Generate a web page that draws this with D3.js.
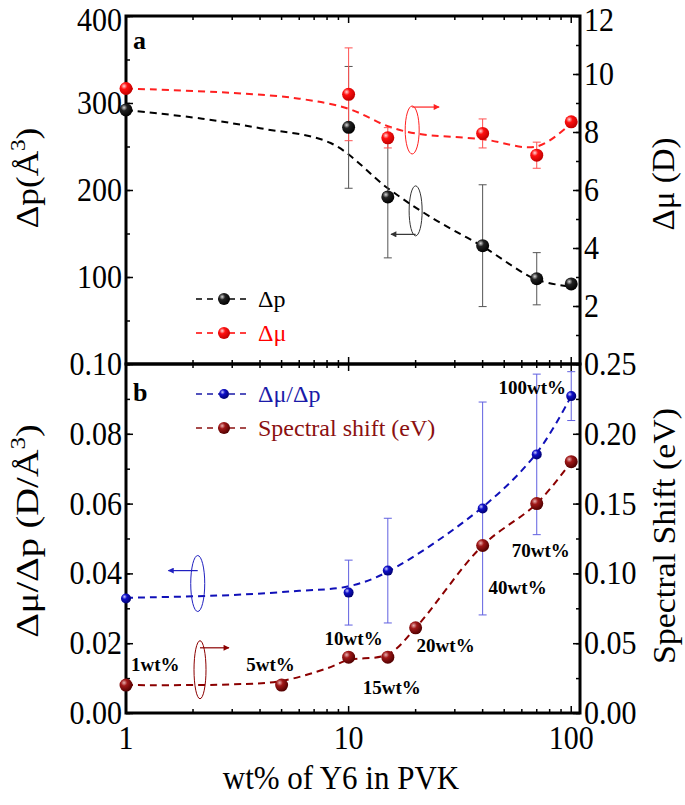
<!DOCTYPE html>
<html>
<head>
<meta charset="utf-8">
<script src="https://cdn.jsdelivr.net/npm/d3@7"></script>
<style>
body { margin: 0; background: #fff; }
text { font-family: "Liberation Serif", "Times New Roman", serif; }
</style>
</head>
<body>
<svg id="chart" width="685" height="805"></svg>
<script>
// wt% of Y6 in PVK
const wtPct = [1, 10, 15, 40, 70, 100];

// panel a
const dp = [292, 272, 192, 136, 98, 92];
const dpErr = [0, 70, 70, 70, 30, 0];
const dmu = [9.5, 9.3, 7.8, 7.95, 7.2, 8.35];
const dmuErr = [0, 1.6, 0.35, 0.5, 0.45, 0];

// panel b
const ratio = [0.0328, 0.0345, 0.0408, 0.0586, 0.0741, 0.0908];
const ratioErr = [0, 0.0093, 0.015, 0.0305, 0.023, 0.007];
const shiftX = [1, 5, 10, 15, 20, 40, 70, 100];
const shift = [0.02, 0.02, 0.04, 0.04, 0.061, 0.12, 0.15, 0.18];
const shiftLabels = ['1wt%', '5wt%', '10wt%', '15wt%', '20wt%', '40wt%', '70wt%', '100wt%'];

// dashed guide curves
const dpFitX = [1, 2.2, 4, 8.3, 15, 23, 40, 70, 100];
const dpFit = [292, 282, 271, 254, 202, 170, 135, 97, 89];
const dmuFitX = [1, 3, 6, 10, 15, 20, 40, 70, 100];
const dmuFit = [9.5, 9.35, 9.15, 8.8, 8.2, 7.95, 7.75, 7.5, 8.3];
const ratioFitX = [1, 3, 6, 10, 15, 40, 70, 100];
const ratioFit = [0.033, 0.0338, 0.035, 0.0363, 0.0405, 0.059, 0.0745, 0.0908];
const shiftFitX = [1, 3, 5, 8, 10, 15, 20, 40, 70, 100];
const shiftFit = [0.02, 0.0205, 0.023, 0.032, 0.038, 0.042, 0.061, 0.12, 0.15, 0.18];

// ticks
const xMajor = [1, 10, 100];
const xMinor = [2, 3, 4, 5, 6, 7, 8, 9, 20, 30, 40, 50, 60, 70, 80, 90];
const dpTicks = [100, 200, 300, 400];
const dmuTicks = [2, 4, 6, 8, 10, 12];
const ratioTicks = [0, 0.02, 0.04, 0.06, 0.08, 0.10];
const shiftTicks = [0, 0.05, 0.10, 0.15, 0.20, 0.25];

const svg = d3.select('#chart');
const left = 126, right = 580;
const topA = 16, midY = 364, botB = 713;

const x = d3.scaleLog().domain([1, 109.5]).range([left, right]);
const yDp = d3.scaleLinear().domain([0, 400]).range([midY, topA]);
const yMu = d3.scaleLinear().domain([0, 12]).range([midY, topA]);
const yRatio = d3.scaleLinear().domain([0, 0.10]).range([botB, midY]);
const yShift = d3.scaleLinear().domain([0, 0.25]).range([botB, midY]);

// sphere gradients
const defs = svg.append('defs');
function sphere(id, hi, base, edge) {
    let g = defs.append('radialGradient').attr('id', id)
        .attr('cx', '35%').attr('cy', '32%').attr('r', '70%');
    g.append('stop').attr('offset', '0%').attr('stop-color', hi);
    g.append('stop').attr('offset', '35%').attr('stop-color', base);
    g.append('stop').attr('offset', '100%').attr('stop-color', edge);
}
sphere('gBlack', '#d8d8d8', '#222', '#000');
sphere('gRed', '#ffd8d8', '#ff1010', '#c00000');
sphere('gBlue', '#c8c8ff', '#1010c8', '#000070');
sphere('gBrown', '#e8b0b0', '#a01818', '#500000');

const tickFont = 30;
const stretch = 1.1;   // the reference lettering is a bit tall

function axes(g, yScale, side, major, minorStep, domain, fmt) {
    let axisFn = side === 'left' ? d3.axisLeft : d3.axisRight;
    let minor = d3.range(domain[0], domain[1] + minorStep / 2, minorStep);
    g.append('g').call(axisFn(yScale).tickValues(minor).tickSize(-4).tickFormat(''));
    let a = g.append('g').call(axisFn(yScale).tickValues(major).tickSize(-7).tickPadding(4).tickFormat(fmt));
    a.selectAll('text').style('font-size', tickFont + 'px').attr('fill', '#000')
        .attr('transform', `scale(1,${stretch})`)
        // keep the label at the very top inside the page
        .attr('dy', d => yScale(d) < 20 ? '0.45em' : '0.32em');
    g.selectAll('.domain').remove();
    g.selectAll('line').attr('stroke', '#000').attr('stroke-width', 1.5);
}

function xTicks(yPos, dir) {
    let g = svg.append('g');
    let all = xMajor.map(v => [v, 7]).concat(xMinor.map(v => [v, 4]));
    g.selectAll('line').data(all).enter().append('line')
        .attr('x1', d => x(d[0])).attr('x2', d => x(d[0]))
        .attr('y1', yPos).attr('y2', d => yPos + dir * d[1])
        .attr('stroke', '#000').attr('stroke-width', 1.5);
}

// axes panel a
axes(svg.append('g').attr('transform', `translate(${left},0)`), yDp, 'left', dpTicks, 50, [0, 400], d3.format('d'));
axes(svg.append('g').attr('transform', `translate(${right},0)`), yMu, 'right', dmuTicks, 1, [0, 12], d3.format('d'));
// axes panel b
axes(svg.append('g').attr('transform', `translate(${left},0)`), yRatio, 'left', ratioTicks, 0.01, [0, 0.10], d3.format('.2f'));
axes(svg.append('g').attr('transform', `translate(${right},0)`), yShift, 'right', shiftTicks, 0.025, [0, 0.25], d3.format('.2f'));

xTicks(topA, 1);
xTicks(midY, -1);
xTicks(midY, 1);
xTicks(botB, -1);

svg.append('g').selectAll('text').data(xMajor).enter().append('text')
    .attr('transform', d => `translate(${x(d)},${botB + 36}) scale(1,${stretch})`)
    .attr('text-anchor', 'middle').style('font-size', tickFont + 'px')
    .text(d => d);

// frames
svg.append('rect').attr('x', left).attr('y', topA).attr('width', right - left).attr('height', midY - topA)
    .attr('fill', 'none').attr('stroke', '#000').attr('stroke-width', 3);
svg.append('rect').attr('x', left).attr('y', midY).attr('width', right - left).attr('height', botB - midY)
    .attr('fill', 'none').attr('stroke', '#000').attr('stroke-width', 3);

// series helpers
function fitLine(xs, ys, yScale, color) {
    let line = d3.line().x(d => x(d[0])).y(d => yScale(d[1])).curve(d3.curveCatmullRom);
    svg.append('path').datum(xs.map((v, i) => [v, ys[i]]))
        .attr('d', line).attr('fill', 'none').attr('stroke', color)
        .attr('stroke-width', 2).attr('stroke-dasharray', '7,5');
}

function errBars(xs, ys, es, yScale, color) {
    let g = svg.append('g').attr('stroke', color).attr('stroke-width', 1);
    xs.forEach((v, i) => {
        if (!es[i]) return;
        let cx = x(v), t = yScale(ys[i] + es[i]), b = yScale(ys[i] - es[i]);
        g.append('line').attr('x1', cx).attr('x2', cx).attr('y1', t).attr('y2', b);
        g.append('line').attr('x1', cx - 4).attr('x2', cx + 4).attr('y1', t).attr('y2', t);
        g.append('line').attr('x1', cx - 4).attr('x2', cx + 4).attr('y1', b).attr('y2', b);
    });
}

function dots(xs, ys, yScale, grad, r) {
    svg.append('g').selectAll('circle').data(xs.map((v, i) => [v, ys[i]])).enter().append('circle')
        .attr('cx', d => x(d[0])).attr('cy', d => yScale(d[1])).attr('r', r)
        .attr('fill', `url(#${grad})`);
}

// panel a
fitLine(dpFitX, dpFit, yDp, '#000');
fitLine(dmuFitX, dmuFit, yMu, '#ff2020');
errBars(wtPct, dp, dpErr, yDp, '#555');
errBars(wtPct, dmu, dmuErr, yMu, '#ff5050');
dots(wtPct, dp, yDp, 'gBlack', 6.5);
dots(wtPct, dmu, yMu, 'gRed', 6.5);

// panel b
fitLine(ratioFitX, ratioFit, yRatio, '#1010b8');
fitLine(shiftFitX, shiftFit, yShift, '#8b0000');
errBars(wtPct, ratio, ratioErr, yRatio, '#6060e0');
dots(wtPct, ratio, yRatio, 'gBlue', 5);
dots(shiftX, shift, yShift, 'gBrown', 6.5);

// wt% labels (offsets from the brown points)
const labelOffset = [[5, -14, 'start'], [-11, -14, 'middle'], [5, -12, 'middle'], [4, 37, 'middle'],
    [30, 24, 'middle'], [35, 49, 'middle'], [4, 53, 'middle'], [-39, -68, 'middle']];
svg.append('g').selectAll('text').data(shiftLabels).enter().append('text')
    .attr('x', (d, i) => x(shiftX[i]) + labelOffset[i][0])
    .attr('y', (d, i) => yShift(shift[i]) + labelOffset[i][1])
    .attr('text-anchor', (d, i) => labelOffset[i][2])
    .style('font-size', '19px').style('font-weight', 'bold')
    .text(d => d);

// axis-pointer ellipses
defs.selectAll('marker').data([['arRed', '#ff2020'], ['arBlack', '#333'], ['arBlue', '#2020c0'], ['arBrown', '#8b0000']])
    .enter().append('marker').attr('id', d => d[0])
    .attr('viewBox', '0 0 10 10').attr('refX', 9).attr('refY', 5)
    .attr('markerWidth', 7).attr('markerHeight', 5).attr('orient', 'auto')
    .append('path').attr('d', 'M0,0L10,5L0,10z').attr('fill', d => d[1]);

function pointer(cx, cy, rx, ry, ay, ax, color, mk) {
    svg.append('ellipse').attr('cx', cx).attr('cy', cy).attr('rx', rx).attr('ry', ry)
        .attr('fill', 'none').attr('stroke', color).attr('stroke-width', 1);
    svg.append('line').attr('x1', cx).attr('x2', ax).attr('y1', ay).attr('y2', ay)
        .attr('stroke', color).attr('stroke-width', 1.2).attr('marker-end', `url(#${mk})`);
}
pointer(x(19.3), yMu(8.07), 7, 24, yMu(8.86), x(25.5), '#ff2020', 'arRed');
pointer(x(20), yDp(176), 6.5, 25, yDp(149), x(15.5), '#333', 'arBlack');
pointer(x(2.1), yRatio(0.0371), 7, 28, yRatio(0.0408), x(1.55), '#2020c0', 'arBlue');
pointer(x(2.15), yShift(0.031), 6, 29, yShift(0.0467), x(2.9), '#8b0000', 'arBrown');

// panel letters
svg.append('text').attr('x', 133).attr('y', 49).style('font-size', '26px').style('font-weight', 'bold').text('a');
svg.append('text').attr('x', 133).attr('y', 401).style('font-size', '26px').style('font-weight', 'bold').text('b');

// legends
function legend(y, grad, r, color, label) {
    svg.append('line').attr('x1', 196).attr('x2', 250).attr('y1', y).attr('y2', y)
        .attr('stroke', color).attr('stroke-width', 1.5).attr('stroke-dasharray', '6,5');
    svg.append('circle').attr('cx', 224).attr('cy', y).attr('r', r).attr('fill', `url(#${grad})`);
    svg.append('text').attr('x', 258).attr('y', y + 8).style('font-size', '24px')
        .attr('fill', color).text(label);
}
legend(299, 'gBlack', 6, '#000', 'Δp');
legend(333, 'gRed', 6, '#ff0000', 'Δμ');
legend(394, 'gBlue', 5, '#1a1aa8', 'Δμ/Δp');
legend(428, 'gBrown', 6, '#8b1010', 'Spectral shift (eV)');

// axis titles
function title(cx, cy, sx, parts) {
    let t = svg.append('text').attr('transform', `translate(${cx},${cy}) rotate(-90) scale(${sx},1)`)
        .attr('text-anchor', 'middle').style('font-size', '32px');
    parts.forEach(p => {
        let s = t.append('tspan').text(p[0]);
        if (p[1]) s.attr('dy', p[1]).style('font-size', '21px');
        if (p[2]) s.attr('dy', p[2]);
    });
}
title(38, 178, 1.1, [['Δp(Å'], ['3', -13], [')', null, 13]]);
title(674, 184, 1.03, [['Δμ (D)']]);
title(38, 531, 1.2, [['Δμ/Δp (D/Å'], ['3', -13], [')', null, 13]]);
title(675, 536, 1.06, [['Spectral Shift (eV)']]);

svg.append('text').attr('transform', `translate(341,789) scale(1,${stretch})`).attr('text-anchor', 'middle')
    .style('font-size', '31px').text('wt% of Y6 in PVK');
</script>
</body>
</html>
